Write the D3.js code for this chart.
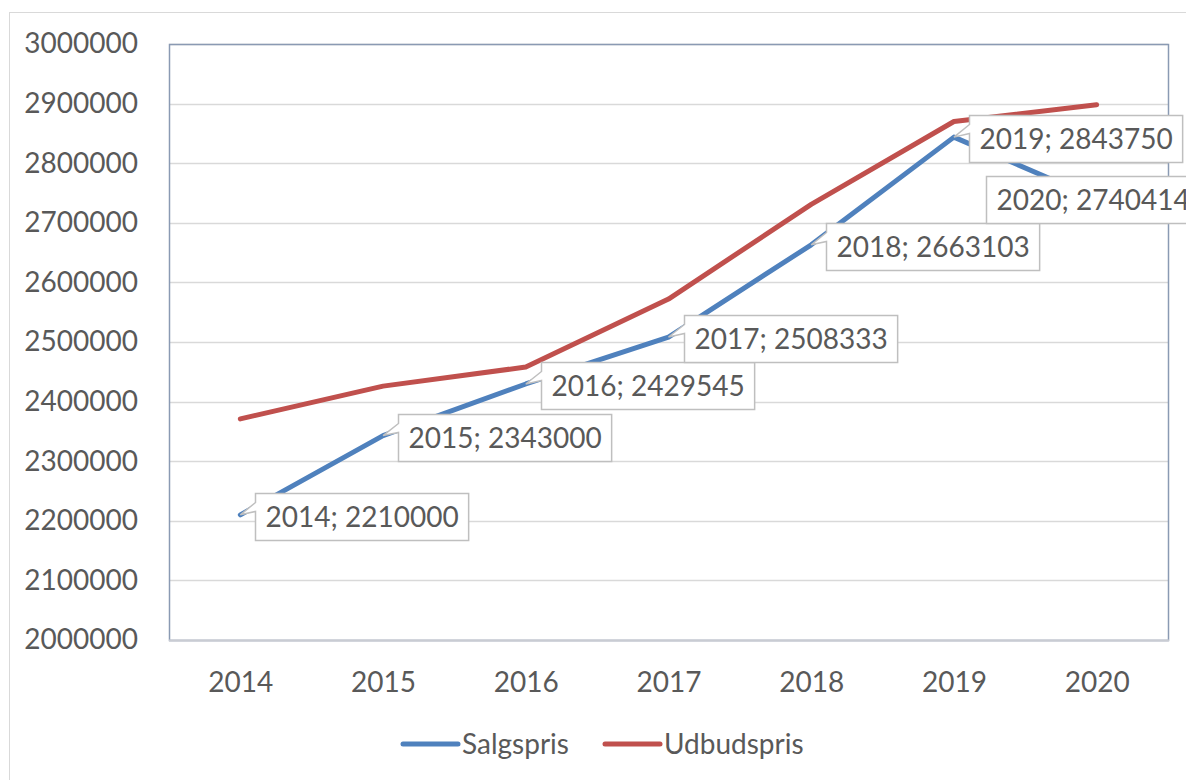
<!DOCTYPE html>
<html>
<head>
<meta charset="utf-8">
<script src="https://cdn.jsdelivr.net/npm/d3@7"></script>
<style>
  body { margin: 0; background: #fff; }
  text { font-family: Lato, "Open Sans", sans-serif; fill: #595959; }
</style>
</head>
<body>
<svg id="chart" width="1186" height="780"></svg>
<script>
// data
const years = ["2014", "2015", "2016", "2017", "2018", "2019", "2020"];
const salgspris = [2210000, 2343000, 2429545, 2508333, 2663103, 2843750, 2740414];
const udbudspris = [2371000, 2426000, 2458000, 2572000, 2731000, 2870000, 2898000];
const seriesNames = ["Salgspris", "Udbudspris"];
const seriesColors = ["#4f81bd", "#c0504d"];

const svg = d3.select("#chart");
const plotLeft = 169, plotRight = 1168, plotTop = 44, plotBottom = 640;

// outer chart frame
svg.append("rect")
  .attr("x", 9.5).attr("y", 12.5)
  .attr("width", 1200).attr("height", 800)
  .attr("fill", "#fff").attr("stroke", "#d9d9d9");

const x = d3.scalePoint().domain(years).range([plotLeft, plotRight]).padding(0.5);
const y = d3.scaleLinear().domain([2000000, 3000000]).range([plotBottom, plotTop]);

// gridlines
svg.append("g")
  .selectAll("line")
  .data(y.ticks(10))
  .join("line")
  .attr("x1", plotLeft).attr("x2", plotRight)
  .attr("y1", d => Math.round(y(d)) + 0.5).attr("y2", d => Math.round(y(d)) + 0.5)
  .attr("stroke", "#d9d9d9").attr("stroke-width", 1.5);

// plot area border
svg.append("rect")
  .attr("x", plotLeft + 0.5).attr("y", plotTop + 0.5)
  .attr("width", plotRight - plotLeft).attr("height", plotBottom - plotTop)
  .attr("fill", "none").attr("stroke", "#8a9ab3").attr("stroke-width", 1.5);

// category axis line
svg.append("line")
  .attr("x1", plotLeft).attr("x2", plotRight + 1)
  .attr("y1", plotBottom + 0.5).attr("y2", plotBottom + 0.5)
  .attr("stroke", "#c9ccd3").attr("stroke-width", 2);

// y axis labels
const yAxis = d3.axisLeft(y).ticks(10).tickFormat(d3.format("d")).tickSize(0).tickPadding(0);
const yg = svg.append("g").attr("transform", "translate(138,0)").call(yAxis);
yg.select(".domain").remove();
yg.selectAll("text").attr("font-size", 28).attr("fill", "#595959");
yg.attr("font-family", null).attr("font-size", null);

// x axis labels
const xAxis = d3.axisBottom(x).tickSize(0).tickPadding(0);
const xg = svg.append("g").attr("transform", "translate(0,672)").call(xAxis);
xg.select(".domain").remove();
xg.selectAll("text").attr("font-size", 28).attr("fill", "#595959");
xg.attr("font-family", null).attr("font-size", null);

// lines
const line = d3.line().x((d, i) => x(years[i])).y(d => y(d));
[salgspris, udbudspris].forEach((vals, k) => {
  svg.append("path")
    .datum(vals)
    .attr("d", line)
    .attr("fill", "none")
    .attr("stroke", seriesColors[k])
    .attr("stroke-width", 5)
    .attr("stroke-linejoin", "round")
    .attr("stroke-linecap", "round");
});

// data labels (callouts) for Salgspris
const labels = svg.append("g");
salgspris.forEach((v, i) => {
  const px = x(years[i]), py = y(v);
  const g = labels.append("g");
  const path = g.append("path");
  const t = g.append("text")
    .attr("font-size", 28)
    .text(years[i] + "; " + v);
  const w = t.node().getComputedTextLength() + 20;
  const h = 47;
  const last = i === years.length - 1;
  let x0 = last ? px - 111 : px + 15;
  let y0 = last ? py - 23 : py - 22;
  x0 = Math.round(x0) + 0.5; y0 = Math.round(y0) + 0.5;
  const d = last
    ? `M${x0},${y0}H${x0 + w}V${y0 + h}H${x0}Z`
    : `M${x0},${y0}H${x0 + w}V${y0 + h}H${x0}V${y0 + 18}L${px},${py}L${x0},${y0 + 9}Z`;
  path.attr("d", d)
    .attr("fill", "#fff")
    .attr("stroke", "#bfbfbf")
    .attr("stroke-width", 1.5);
  t.attr("x", x0 + 10).attr("y", y0 + h / 2 + 10);
});

// legend
const legend = svg.append("g");
const legendX = [403, 605];
seriesNames.forEach((name, k) => {
  legend.append("line")
    .attr("x1", legendX[k]).attr("x2", legendX[k] + 55)
    .attr("y1", 744).attr("y2", 744)
    .attr("stroke", seriesColors[k]).attr("stroke-width", 5)
    .attr("stroke-linecap", "round");
  legend.append("text")
    .attr("x", legendX[k] + 59).attr("y", 754)
    .attr("font-size", 28)
    .text(name);
});
</script>
</body>
</html>
